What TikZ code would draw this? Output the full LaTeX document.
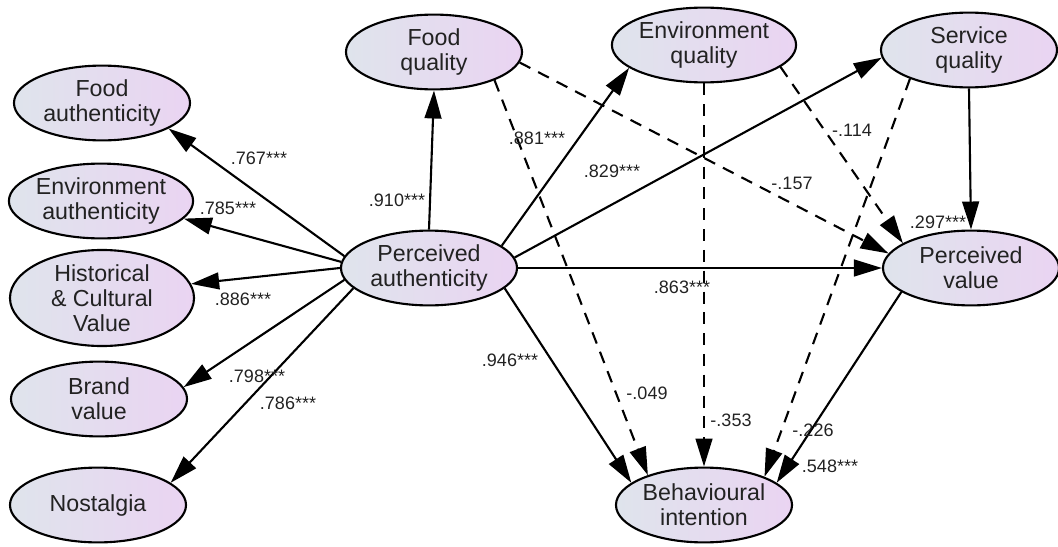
\documentclass[tikz,border=0pt]{standalone}
\usepackage{fontspec}
\setmainfont{Liberation Sans}
\usetikzlibrary{arrows.meta,shapes.geometric}
\definecolor{LatLeft}{RGB}{223,228,236}
\definecolor{LatRight}{RGB}{234,212,242}
\definecolor{Ink}{RGB}{34,34,34}

\begin{document}
\begin{tikzpicture}[x=0.025cm,y=-0.025cm,
  lat/.style={ellipse,draw,line width=1.5pt,left color=LatLeft,right color=LatRight,inner sep=0pt,minimum width=4.4cm,minimum height=1.87cm,align=center,text=Ink,font=\fontsize{16.5}{17.8}\selectfont},
  coef/.style={inner sep=0pt,text=Ink,font=\fontsize{12.8}{14}\selectfont},
  reg/.style={-{Triangle[length=0.7cm,width=0.42cm]},line width=1.5pt},
  regns/.style={reg,dash pattern=on 0.3cm off 0.22cm}]
\useasboundingbox (0,0) rectangle (1058,546);
% latent variables
\node[lat] (fa) at (102,103) {Food\\authenticity};
\node[lat] (ea) at (101,201) {Environment\\authenticity};
\node[lat,minimum width=4.6cm,minimum height=2.4cm] (hc) at (102,298) {Historical\\\& Cultural\\Value};
\node[lat] (bv) at (99,399) {Brand\\value};
\node[lat] (no) at (98,505) {Nostalgia};
\node[lat] (pa) at (429,268) {Perceived\\authenticity};
\node[lat] (fq) at (434,52) {Food\\quality};
\node[lat] (eq) at (704,45) {Environment\\quality};
\node[lat] (sq) at (969,50) {Service\\quality};
\node[lat] (pv) at (971,268) {Perceived\\value};
\node[lat] (bi) at (704,505) {Behavioural\\intention};
% paths
\draw[reg] (pa.172) -- (fa.-21);
\draw[reg] (pa.176) -- (ea.-12);
\draw[reg] (pa.180) -- (hc.9);
\draw[reg] (pa.188) -- (bv.8);
\draw[reg] (pa.195) -- (no.17);
\draw[reg] (pa.north) -- (fq.south);
\draw[reg] (pa.17) -- (eq.197);
\draw[reg] (pa.7) -- (sq.185);
\draw[reg] (pa.east) -- (pv.west);
\draw[reg] (pa.-15) -- (bi.163);
\draw[regns] (fq.-7) -- (pv.170);
\draw[regns] (fq.-25) -- (bi.152);
\draw[regns] (eq.-16) -- (pv.160);
\draw[regns] (eq.south) -- (bi.north);
\draw[reg] (sq.south) -- (pv.north);
\draw[regns] (sq.206) -- (bi.25);
\draw[reg] (pv.199) -- (bi.17);
% estimates
\node[coef] (c-fa) at (259,158) {.767***};
\node[coef] (c-ea) at (228,208) {.785***};
\node[coef] (c-hc) at (243,299) {.886***};
\node[coef] (c-bv) at (257,376) {.798***};
\node[coef] (c-no) at (288,403) {.786***};
\node[coef] (c-fq) at (397,200) {.910***};
\node[coef] (c-eq) at (537,138) {.881***};
\node[coef] (c-sq) at (612,171) {.829***};
\node[coef] (c-pv) at (682,287) {.863***};
\node[coef] (c-bi) at (510,360) {.946***};
\node[coef] (c-fqpv) at (792,183) {-.157};
\node[coef] (c-fqbi) at (647,393) {-.049};
\node[coef] (c-eqpv) at (852,130) {-.114};
\node[coef] (c-eqbi) at (731,420) {-.353};
\node[coef] (c-sqpv) at (938,222) {.297***};
\node[coef] (c-sqbi) at (813,430) {-.226};
\node[coef] (c-pvbi) at (830,466) {.548***};
\end{tikzpicture}
\end{document}
